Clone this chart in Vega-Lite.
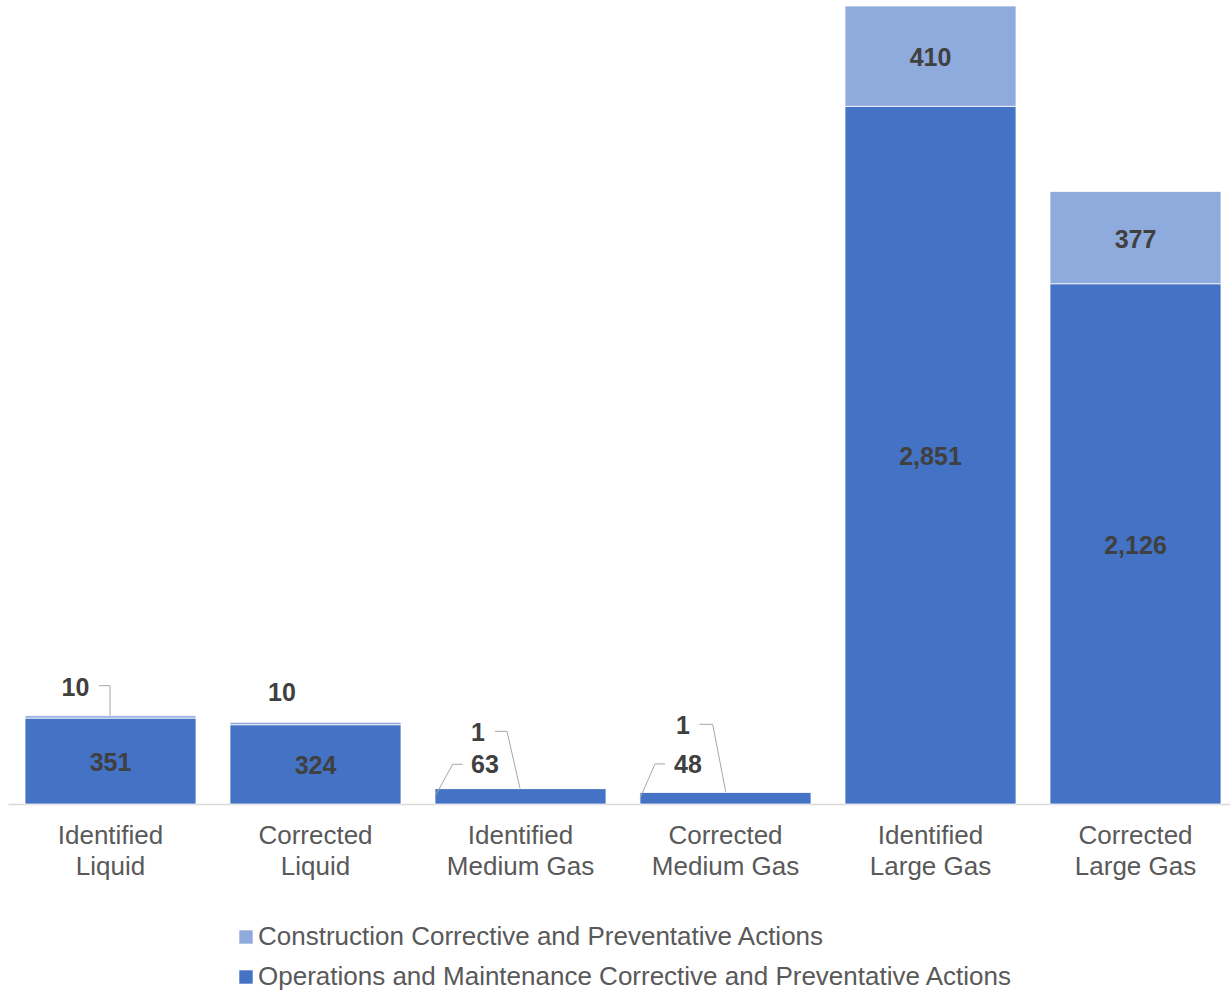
{
  "$schema": "https://vega.github.io/schema/vega-lite/v6.json",
  "width": 1230,
  "height": 798,
  "autosize": {"type": "none"},
  "padding": {"left": 8, "top": 6, "right": 0, "bottom": 188},
  "background": "#ffffff",
  "config": {
    "view": {"stroke": null},
    "font": "Arial, 'Liberation Sans', sans-serif",
    "text": {"font": "Arial, 'Liberation Sans', sans-serif"}
  },
  "data": {
    "values": [
      {"category": "Identified Liquid", "series": "Operations and Maintenance Corrective and Preventative Actions", "value": 351},
      {"category": "Identified Liquid", "series": "Construction Corrective and Preventative Actions", "value": 10},
      {"category": "Corrected Liquid", "series": "Operations and Maintenance Corrective and Preventative Actions", "value": 324},
      {"category": "Corrected Liquid", "series": "Construction Corrective and Preventative Actions", "value": 10},
      {"category": "Identified Medium Gas", "series": "Operations and Maintenance Corrective and Preventative Actions", "value": 63},
      {"category": "Identified Medium Gas", "series": "Construction Corrective and Preventative Actions", "value": 1},
      {"category": "Corrected Medium Gas", "series": "Operations and Maintenance Corrective and Preventative Actions", "value": 48},
      {"category": "Corrected Medium Gas", "series": "Construction Corrective and Preventative Actions", "value": 1},
      {"category": "Identified Large Gas", "series": "Operations and Maintenance Corrective and Preventative Actions", "value": 2851},
      {"category": "Identified Large Gas", "series": "Construction Corrective and Preventative Actions", "value": 410},
      {"category": "Corrected Large Gas", "series": "Operations and Maintenance Corrective and Preventative Actions", "value": 2126},
      {"category": "Corrected Large Gas", "series": "Construction Corrective and Preventative Actions", "value": 377}
    ]
  },
  "transform": [
    {"stack": "value", "groupby": ["category"], "sort": [{"field": "series", "order": "descending"}], "as": ["v0", "v1"]},
    {"calculate": "(datum.v0 + datum.v1) / 2", "as": "mid"}
  ],
  "encoding": {
    "x": {
      "field": "category",
      "type": "nominal",
      "sort": ["Identified Liquid", "Corrected Liquid", "Identified Medium Gas", "Corrected Medium Gas", "Identified Large Gas", "Corrected Large Gas"],
      "scale": {"paddingInner": 0.166, "paddingOuter": 0.083},
      "axis": {
        "title": null,
        "labelAngle": 0,
        "ticks": false,
        "grid": false,
        "domainColor": "#d9d9d9",
        "domainWidth": 1.5,
        "labelFontSize": 26,
        "labelColor": "#595959",
        "labelPadding": 18.5,
        "labelLineHeight": 31,
        "labelLimit": 400,
        "labelExpr": "[substring(datum.label, 0, indexof(datum.label, ' ')), substring(datum.label, indexof(datum.label, ' ') + 1)]"
      }
    }
  },
  "layer": [
    {
      "mark": {"type": "bar", "stroke": "#ffffff", "strokeWidth": 0.75},
      "encoding": {
        "y": {"field": "v1", "type": "quantitative", "scale": {"domain": [0, 3261], "nice": false, "zero": true}, "axis": null},
        "y2": {"field": "v0"},
        "color": {
          "field": "series",
          "type": "nominal",
          "scale": {
            "domain": ["Construction Corrective and Preventative Actions", "Operations and Maintenance Corrective and Preventative Actions"],
            "range": ["#8FAADC", "#4472C4"]
          },
          "legend": {
            "orient": "none",
            "legendX": 225,
            "legendY": 918,
            "direction": "vertical",
            "title": null,
            "symbolType": "square",
            "symbolSize": 180,
            "symbolStrokeWidth": 0,
            "labelFontSize": 26,
            "labelColor": "#595959",
            "labelOffset": -1,
            "labelLimit": 1200,
            "rowPadding": 14
          }
        }
      }
    },
    {
      "transform": [{"filter": "datum.value >= 100"}],
      "mark": {"type": "text", "fontSize": 25, "fontWeight": "bold", "color": "#404040", "baseline": "middle", "align": "center", "dy": 2},
      "encoding": {
        "y": {"field": "mid", "type": "quantitative"},
        "text": {"field": "value", "type": "quantitative", "format": ","}
      }
    },
    {
      "transform": [{"filter": "datum.category === 'Identified Liquid' && datum.value < 100"}],
      "mark": {"type": "text", "fontSize": 25, "fontWeight": "bold", "color": "#404040", "baseline": "middle", "align": "center", "dx": -35, "dy": -28},
      "encoding": {"y": {"field": "v1", "type": "quantitative"}, "text": {"field": "value", "type": "quantitative", "format": ","}}
    },
    {
      "transform": [{"filter": "datum.category === 'Corrected Liquid' && datum.value < 100"}],
      "mark": {"type": "text", "fontSize": 25, "fontWeight": "bold", "color": "#404040", "baseline": "middle", "align": "center", "dx": -33.5, "dy": -29.5},
      "encoding": {"y": {"field": "v1", "type": "quantitative"}, "text": {"field": "value", "type": "quantitative", "format": ","}}
    },
    {
      "transform": [{"filter": "datum.category === 'Identified Medium Gas' && datum.value === 63"}],
      "mark": {"type": "text", "fontSize": 25, "fontWeight": "bold", "color": "#404040", "baseline": "middle", "align": "center", "dx": -35.5, "dy": -24},
      "encoding": {"y": {"field": "v1", "type": "quantitative"}, "text": {"field": "value", "type": "quantitative", "format": ","}}
    },
    {
      "transform": [{"filter": "datum.category === 'Identified Medium Gas' && datum.value === 1"}],
      "mark": {"type": "text", "fontSize": 25, "fontWeight": "bold", "color": "#404040", "baseline": "middle", "align": "center", "dx": -42.5, "dy": -55},
      "encoding": {"y": {"field": "v1", "type": "quantitative"}, "text": {"field": "value", "type": "quantitative", "format": ","}}
    },
    {
      "transform": [{"filter": "datum.category === 'Corrected Medium Gas' && datum.value === 48"}],
      "mark": {"type": "text", "fontSize": 25, "fontWeight": "bold", "color": "#404040", "baseline": "middle", "align": "center", "dx": -37.5, "dy": -27.5},
      "encoding": {"y": {"field": "v1", "type": "quantitative"}, "text": {"field": "value", "type": "quantitative", "format": ","}}
    },
    {
      "transform": [{"filter": "datum.category === 'Corrected Medium Gas' && datum.value === 1"}],
      "mark": {"type": "text", "fontSize": 25, "fontWeight": "bold", "color": "#404040", "baseline": "middle", "align": "center", "dx": -42.5, "dy": -66},
      "encoding": {"y": {"field": "v1", "type": "quantitative"}, "text": {"field": "value", "type": "quantitative", "format": ","}}
    },
    {
      "transform": [{"filter": "datum.category === 'Identified Liquid' && datum.value < 100"}],
      "mark": {"type": "rule", "color": "#a6a6a6", "strokeWidth": 1, "xOffset": -11.5, "x2Offset": -0.5, "yOffset": -30, "y2Offset": -30},
      "encoding": {"x2": {"field": "category"}, "y": {"field": "v1", "type": "quantitative"}, "y2": {"field": "v1"}}
    },
    {
      "transform": [{"filter": "datum.category === 'Identified Liquid' && datum.value < 100"}],
      "mark": {"type": "rule", "color": "#a6a6a6", "strokeWidth": 1, "xOffset": -0.5, "x2Offset": -0.5, "yOffset": -30, "y2Offset": 0},
      "encoding": {"x2": {"field": "category"}, "y": {"field": "v1", "type": "quantitative"}, "y2": {"field": "v1"}}
    },
    {
      "transform": [{"filter": "datum.category === 'Identified Medium Gas' && datum.value === 1"}],
      "mark": {"type": "rule", "color": "#a6a6a6", "strokeWidth": 1, "xOffset": -25.5, "x2Offset": -13.5, "yOffset": -57, "y2Offset": -57},
      "encoding": {"x2": {"field": "category"}, "y": {"field": "v1", "type": "quantitative"}, "y2": {"field": "v1"}}
    },
    {
      "transform": [{"filter": "datum.category === 'Identified Medium Gas' && datum.value === 1"}],
      "mark": {"type": "rule", "color": "#a6a6a6", "strokeWidth": 1, "xOffset": -13.5, "x2Offset": -0.5, "yOffset": -57, "y2Offset": 0},
      "encoding": {"x2": {"field": "category"}, "y": {"field": "v1", "type": "quantitative"}, "y2": {"field": "v1"}}
    },
    {
      "transform": [{"filter": "datum.category === 'Identified Medium Gas' && datum.value === 63"}],
      "mark": {"type": "rule", "color": "#a6a6a6", "strokeWidth": 1, "xOffset": -57.8, "x2Offset": -67.8, "yOffset": -24.3, "y2Offset": -24.3},
      "encoding": {"x2": {"field": "category"}, "y": {"field": "v1", "type": "quantitative"}, "y2": {"field": "v1"}}
    },
    {
      "transform": [{"filter": "datum.category === 'Identified Medium Gas' && datum.value === 63"}],
      "mark": {"type": "rule", "color": "#a6a6a6", "strokeWidth": 1, "xOffset": -67.8, "x2Offset": -85.5, "yOffset": -24.3, "y2Offset": 8},
      "encoding": {"x2": {"field": "category"}, "y": {"field": "v1", "type": "quantitative"}, "y2": {"field": "v1"}}
    },
    {
      "transform": [{"filter": "datum.category === 'Corrected Medium Gas' && datum.value === 1"}],
      "mark": {"type": "rule", "color": "#a6a6a6", "strokeWidth": 1, "xOffset": -26.2, "x2Offset": -12.8, "yOffset": -67.7, "y2Offset": -67.7},
      "encoding": {"x2": {"field": "category"}, "y": {"field": "v1", "type": "quantitative"}, "y2": {"field": "v1"}}
    },
    {
      "transform": [{"filter": "datum.category === 'Corrected Medium Gas' && datum.value === 1"}],
      "mark": {"type": "rule", "color": "#a6a6a6", "strokeWidth": 1, "xOffset": -12.8, "x2Offset": 0.2, "yOffset": -67.7, "y2Offset": -0.3},
      "encoding": {"x2": {"field": "category"}, "y": {"field": "v1", "type": "quantitative"}, "y2": {"field": "v1"}}
    },
    {
      "transform": [{"filter": "datum.category === 'Corrected Medium Gas' && datum.value === 48"}],
      "mark": {"type": "rule", "color": "#a6a6a6", "strokeWidth": 1, "xOffset": -60.5, "x2Offset": -70.5, "yOffset": -28.3, "y2Offset": -28.3},
      "encoding": {"x2": {"field": "category"}, "y": {"field": "v1", "type": "quantitative"}, "y2": {"field": "v1"}}
    },
    {
      "transform": [{"filter": "datum.category === 'Corrected Medium Gas' && datum.value === 48"}],
      "mark": {"type": "rule", "color": "#a6a6a6", "strokeWidth": 1, "xOffset": -70.5, "x2Offset": -85.5, "yOffset": -28.3, "y2Offset": 6},
      "encoding": {"x2": {"field": "category"}, "y": {"field": "v1", "type": "quantitative"}, "y2": {"field": "v1"}}
    }
  ]
}
